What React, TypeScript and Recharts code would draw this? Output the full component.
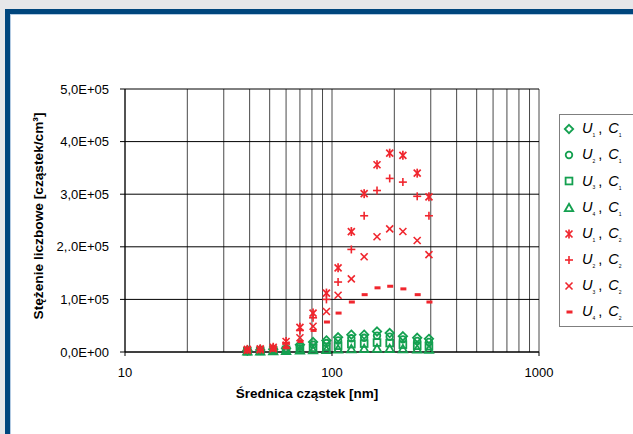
import React from 'react'
import {
  ScatterChart,
  Scatter,
  XAxis,
  YAxis,
  CartesianGrid,
} from 'recharts'

// particle diameters [nm]
const diameters = [39, 45, 52, 60, 70, 81, 94, 107, 124, 143, 165, 190, 220, 258, 294]

// number concentration [particles/cm3]
const u1c1 = [3000, 4000, 5000, 7000, 14000, 19000, 22000, 28000, 33000, 33000, 39000, 36000, 30000, 27000, 25000]
const u2c1 = [2000, 3000, 4000, 5000, 10000, 14000, 17000, 22000, 26000, 27000, 31000, 29000, 24000, 21000, 19000]
const u3c1 = [1500, 2000, 3000, 4000, 6000, 8000, 10000, 12000, 15000, 16000, 18000, 17000, 14000, 12000, 11000]
const u4c1 = [1000, 1000, 1500, 2000, 3000, 3500, 4000, 5000, 5500, 6000, 6500, 6000, 5500, 5000, 4500]
const u1c2 = [5000, 6000, 9000, 20000, 47000, 74000, 112000, 160000, 229000, 301000, 356000, 378000, 374000, 340000, 295000]
const u2c2 = [4000, 5000, 8000, 17000, 41000, 65000, 100000, 133000, 195000, 259000, 307000, 330000, 323000, 296000, 259000]
const u3c2 = [3000, 4000, 6000, 13000, 27000, 49000, 77000, 108000, 139000, 181000, 219000, 234000, 229000, 212000, 185000]
const u4c2 = [2000, 3000, 4000, 8000, 20000, 41000, 57000, 74000, 95000, 109000, 122000, 125000, 120000, 109000, 95000]

const xTicks = [10, 20, 30, 40, 50, 60, 70, 80, 90, 100, 200, 300, 400, 500, 600, 700, 800, 900, 1000]
const yTicks = [0, 100000, 200000, 300000, 400000, 500000]
const yTickLabels = ['0,0E+00', '1,0E+05', '2,.0E+05', '3,0E+05', '4,0E+05', '5,0E+05']

const GREEN = '#14a050'
const RED = '#f0262e'
const FONT = '"Liberation Sans", Arial, sans-serif'

type Kind = 'diamond' | 'circle' | 'square' | 'triangle' | 'asterisk' | 'plus' | 'cross' | 'dash'

const series: { u: string; c: string; kind: Kind; color: string; values: number[] }[] = [
  { u: '1', c: '1', kind: 'diamond', color: GREEN, values: u1c1 },
  { u: '2', c: '1', kind: 'circle', color: GREEN, values: u2c1 },
  { u: '3', c: '1', kind: 'square', color: GREEN, values: u3c1 },
  { u: '4', c: '1', kind: 'triangle', color: GREEN, values: u4c1 },
  { u: '1', c: '2', kind: 'asterisk', color: RED, values: u1c2 },
  { u: '2', c: '2', kind: 'plus', color: RED, values: u2c2 },
  { u: '3', c: '2', kind: 'cross', color: RED, values: u3c2 },
  { u: '4', c: '2', kind: 'dash', color: RED, values: u4c2 },
]

function Marker({ cx, cy, kind, color }: { cx: number; cy: number; kind: Kind; color: string }) {
  const sw = 1.8
  switch (kind) {
    case 'diamond':
      return <polygon points={`${cx},${cy - 4.2} ${cx + 4.2},${cy} ${cx},${cy + 4.2} ${cx - 4.2},${cy}`} fill="none" stroke={color} strokeWidth={sw} />
    case 'circle':
      return <circle cx={cx} cy={cy} r={3.3} fill="none" stroke={color} strokeWidth={sw} />
    case 'square':
      return <rect x={cx - 3.4} y={cy - 3.4} width={6.8} height={6.8} fill="none" stroke={color} strokeWidth={sw} />
    case 'triangle':
      return <polygon points={`${cx},${cy - 4.2} ${cx + 4.2},${cy + 3.2} ${cx - 4.2},${cy + 3.2}`} fill="none" stroke={color} strokeWidth={sw} />
    case 'asterisk':
      return (
        <g stroke={color} strokeWidth={1.7}>
          <line x1={cx - 3.5} y1={cy - 3.5} x2={cx + 3.5} y2={cy + 3.5} />
          <line x1={cx - 3.5} y1={cy + 3.5} x2={cx + 3.5} y2={cy - 3.5} />
          <line x1={cx} y1={cy - 4.5} x2={cx} y2={cy + 4.5} />
        </g>
      )
    case 'plus':
      return (
        <g stroke={color} strokeWidth={1.6}>
          <line x1={cx - 4} y1={cy} x2={cx + 4} y2={cy} />
          <line x1={cx} y1={cy - 4} x2={cx} y2={cy + 4} />
        </g>
      )
    case 'cross':
      return (
        <g stroke={color} strokeWidth={1.6}>
          <line x1={cx - 3.5} y1={cy - 3.5} x2={cx + 3.5} y2={cy + 3.5} />
          <line x1={cx - 3.5} y1={cy + 3.5} x2={cx + 3.5} y2={cy - 3.5} />
        </g>
      )
    default:
      return <rect x={cx - 2.5} y={cy - 1.5} width={6} height={3} fill={color} />
  }
}

function XTick(props: any) {
  const { x, y, payload } = props
  const v = payload.value
  const major = v === 10 || v === 100 || v === 1000
  if (!major) return null
  return (
    <g>
      <line x1={x} y1={y} x2={x} y2={y + 4} stroke="#000" />
      <text x={x} y={y + 25} textAnchor="middle" fontSize={13} fontFamily={FONT} fill="#000">
        {v}
      </text>
    </g>
  )
}

function YTick(props: any) {
  const { x, y, payload, index } = props
  return (
    <g>
      <line x1={x - 5} y1={y} x2={x} y2={y} stroke="#000" />
      <text x={x - 16} y={y} dy="0.36em" textAnchor="end" fontSize={13} fontFamily={FONT} fill="#000">
        {yTickLabels[index] ?? payload.value}
      </text>
    </g>
  )
}

function LegendBox() {
  return (
    <div
      style={{
        position: 'absolute',
        left: 559,
        top: 114,
        width: 90,
        height: 213,
        border: '1px solid #7f7f7f',
        borderRight: 'none',
        background: '#fff',
        boxSizing: 'border-box',
        paddingTop: 1,
        fontFamily: FONT,
      }}
    >
      {series.map((s, i) => (
        <div key={i} style={{ display: 'flex', alignItems: 'center', height: 26.2 }}>
          <svg width={16} height={14} style={{ marginLeft: 1 }}>
            <Marker cx={8} cy={7} kind={s.kind} color={s.color} />
          </svg>
          <span style={{ fontSize: 14.5, color: '#000', marginLeft: 5, whiteSpace: 'nowrap' }}>
            <i>U</i>
            <sub style={{ fontSize: 5, paddingRight: 3 }}>{s.u}</sub>
            {', '}
            <i style={{ marginLeft: 2 }}>C</i>
            <sub style={{ fontSize: 5 }}>{s.c}</sub>
          </span>
        </div>
      ))}
    </div>
  )
}

export default function App() {
  return (
    <div style={{ position: 'absolute', left: 0, top: 0, width: 633, height: 434, overflow: 'hidden', background: '#e6e7e9' }}>
      <div
        style={{
          position: 'absolute',
          left: 5,
          top: 9,
          width: 700,
          height: 500,
          borderLeft: '5px solid #00467d',
          borderTop: '5px solid #00467d',
          background: '#fff',
          boxShadow: 'inset 1px 1px 0 #b3cbe3',
        }}
      />
      <div style={{ position: 'absolute', left: 0, top: 0 }}>
        <ScatterChart width={633} height={434} margin={{ top: 89, right: 94, bottom: 52, left: 65 }}>
          <CartesianGrid horizontal={false} stroke="#4a4a4a" strokeOpacity={1} />
          <CartesianGrid vertical={false} stroke="#000" strokeOpacity={1} />
          <XAxis
            type="number"
            dataKey="d"
            scale="log"
            domain={[10, 1000]}
            ticks={xTicks}
            interval={0}
            allowDataOverflow
            tick={<XTick />}
            tickLine={false}
            tickSize={0}
            tickMargin={0}
            axisLine={{ stroke: '#000' }}
            height={30}
          />
          <YAxis
            type="number"
            dataKey="v"
            domain={[0, 500000]}
            ticks={yTicks}
            interval={0}
            tick={<YTick />}
            tickLine={false}
            tickSize={0}
            tickMargin={0}
            axisLine={{ stroke: '#000' }}
            width={60}
          />
          {series.map((s, i) => (
            <Scatter
              key={i}
              name={`U${s.u}, C${s.c}`}
              data={diameters.map((d, j) => ({ d, v: s.values[j] }))}
              isAnimationActive={false}
              shape={(p: any) => <Marker cx={p.cx} cy={p.cy} kind={s.kind} color={s.color} />}
            />
          ))}
        </ScatterChart>
      </div>
      <LegendBox />
      <div
        style={{
          position: 'absolute',
          left: 307,
          top: 386,
          transform: 'translateX(-50%)',
          fontFamily: FONT,
          fontWeight: 'bold',
          fontSize: 13.5,
          whiteSpace: 'nowrap',
          color: '#000',
        }}
      >
        Średnica cząstek [nm]
      </div>
      <div
        style={{
          position: 'absolute',
          left: 38,
          top: 216,
          transform: 'translate(-50%, -50%) rotate(-90deg)',
          fontFamily: FONT,
          fontWeight: 'bold',
          fontSize: 13.7,
          whiteSpace: 'nowrap',
          color: '#000',
        }}
      >
        Stężenie liczbowe [cząstek/cm³]
      </div>
    </div>
  )
}
